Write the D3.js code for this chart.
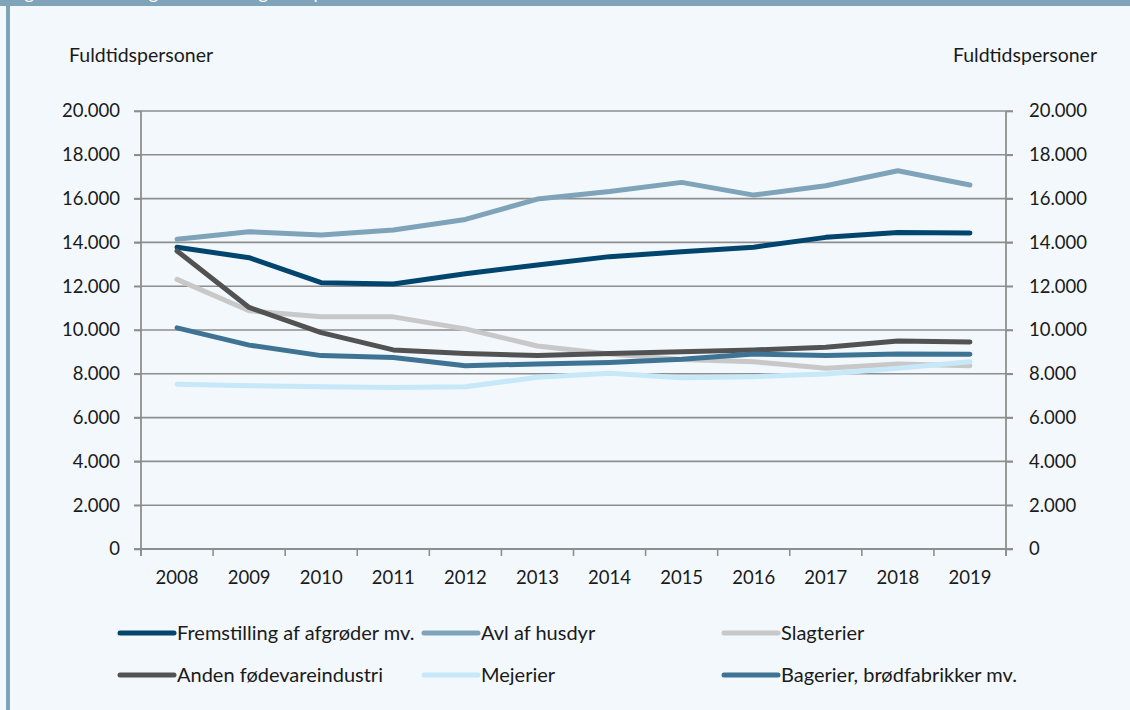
<!DOCTYPE html>
<html>
<head>
<meta charset="utf-8">
<script src="https://cdn.jsdelivr.net/npm/d3@7"></script>
<style>
  html, body { margin: 0; padding: 0; background: #f3f8fc; }
  svg { display: block; font-family: Lato, "Open Sans", sans-serif; }
</style>
</head>
<body>
<svg id="chart" width="1130" height="710"></svg>
<script>
const years = ["2008","2009","2010","2011","2012","2013","2014","2015","2016","2017","2018","2019"];
const yTicks = [0, 2000, 4000, 6000, 8000, 10000, 12000, 14000, 16000, 18000, 20000];
const unitLabel = "Fuldtidspersoner";
const titleText = "Figur 2.1 Udviklingen i beskæftigelsen på tværs af fødevareerhvervene";

const seriesNames = ["Fremstilling af afgrøder mv.", "Avl af husdyr", "Slagterier",
                     "Anden fødevareindustri", "Mejerier", "Bagerier, brødfabrikker mv."];
const fremstilling = [13780, 13300, 12160, 12100, 12570, 12970, 13350, 13570, 13780, 14230, 14450, 14430];
const avl          = [14140, 14490, 14340, 14570, 15050, 15980, 16320, 16740, 16160, 16590, 17270, 16620];
const slagterier   = [12310, 10880, 10600, 10600, 10050, 9270, 8900, 8650, 8550, 8250, 8450, 8370];
const anden        = [13610, 11030, 9880, 9090, 8930, 8830, 8930, 9010, 9090, 9210, 9500, 9450];
const mejerier     = [7520, 7460, 7410, 7370, 7410, 7840, 8020, 7820, 7870, 7990, 8250, 8550];
const bagerier     = [10100, 9310, 8830, 8740, 8370, 8450, 8520, 8660, 8900, 8830, 8900, 8890];
const colors = ["#00456e", "#7fa3b8", "#c8c8c8", "#525252", "#c6e8f8", "#3f7394"];

const seriesValues = [fremstilling, avl, slagterier, anden, mejerier, bagerier];

const svg = d3.select("#chart");
const W = 1130, H = 710;
const m = { left: 141, right: 1006, top: 111, bottom: 549 };

// background & frame
svg.append("rect").attr("width", W).attr("height", H).attr("fill", "#f3f8fc");
svg.append("rect").attr("x", 0).attr("y", 0).attr("width", W).attr("height", 6).attr("fill", "#7fa3b8");
svg.append("rect").attr("x", 6).attr("y", 0).attr("width", 4).attr("height", H).attr("fill", "#7fa3b8");
svg.append("text").attr("x", 10).attr("y", -1).attr("fill", "#ffffff")
  .attr("font-size", 18).text(titleText);

const x = d3.scaleBand().domain(years).range([m.left, m.right]);
const y = d3.scaleLinear().domain([0, 20000]).range([m.bottom, m.top]);
const fmt = v => d3.format(",")(v).replace(/,/g, ".");

// gridlines
svg.append("g").selectAll("line").data(yTicks).join("line")
  .attr("x1", m.left - 7).attr("x2", m.right + 7)
  .attr("y1", d => y(d)).attr("y2", d => y(d))
  .attr("stroke", "#8e8e8e").attr("stroke-width", 1.6);

// y axes
const yAxisL = svg.append("g").attr("transform", `translate(${m.left},0)`)
  .call(d3.axisLeft(y).tickValues(yTicks).tickFormat(fmt).tickSize(7).tickPadding(14));
const yAxisR = svg.append("g").attr("transform", `translate(${m.right},0)`)
  .call(d3.axisRight(y).tickValues(yTicks).tickFormat(fmt).tickSize(7).tickPadding(16));
[yAxisL, yAxisR].forEach(g => {
  g.select(".domain").attr("stroke", "#8e8e8e").attr("stroke-width", 1.8)
    .attr("d", `M0,${m.top}V${m.bottom + 7}`);
  g.selectAll(".tick line").attr("stroke", "#8e8e8e").attr("stroke-width", 1.6);
  g.selectAll(".tick text").attr("font-size", 18.5).attr("fill", "#1a1a1a")
    .attr("font-family", "Lato, sans-serif");
});

// x axis
const xAxis = svg.append("g").attr("transform", `translate(0,${m.bottom})`)
  .call(d3.axisBottom(x).tickSize(0).tickPadding(22));
xAxis.select(".domain").attr("stroke", "#8e8e8e").attr("stroke-width", 1.8)
  .attr("d", `M${m.left - 7},0H${m.right + 7}`);
xAxis.selectAll(".tick text").attr("font-size", 18.5).attr("fill", "#1a1a1a")
  .attr("font-family", "Lato, sans-serif");
const edges = years.map(d => x(d)).concat([x(years[years.length - 1]) + x.bandwidth()]);
xAxis.append("g").selectAll("line").data(edges).join("line")
  .attr("x1", d => d).attr("x2", d => d).attr("y1", 0).attr("y2", 7)
  .attr("stroke", "#8e8e8e").attr("stroke-width", 1.6);

// unit labels
svg.append("text").attr("x", 69).attr("y", 62).attr("font-size", 19.5).attr("fill", "#1a1a1a").text(unitLabel);
svg.append("text").attr("x", 1097).attr("y", 62).attr("text-anchor", "end").attr("font-size", 19.5).attr("fill", "#1a1a1a").text(unitLabel);

// lines
const line = d3.line().x((d, i) => x(years[i]) + x.bandwidth() / 2).y(d => y(d));
svg.append("g").selectAll("path").data(seriesValues).join("path")
  .attr("d", d => line(d))
  .attr("fill", "none")
  .attr("stroke", (d, i) => colors[i])
  .attr("stroke-width", 5)
  .attr("stroke-linecap", "round")
  .attr("stroke-linejoin", "round");

// legend
const legPos = [[120, 633], [424, 633], [724, 633], [120, 675], [424, 675], [724, 675]];
const leg = svg.append("g").selectAll("g").data(seriesNames).join("g")
  .attr("transform", (d, i) => `translate(${legPos[i][0]},${legPos[i][1]})`);
leg.append("line").attr("x1", 0).attr("x2", 54).attr("y1", 0).attr("y2", 0)
  .attr("stroke", (d, i) => colors[i]).attr("stroke-width", 5).attr("stroke-linecap", "round");
leg.append("text").attr("x", 57).attr("y", 0).attr("dy", "0.35em")
  .attr("font-size", 20).attr("fill", "#1a1a1a").text(d => d);
</script>
</body>
</html>
